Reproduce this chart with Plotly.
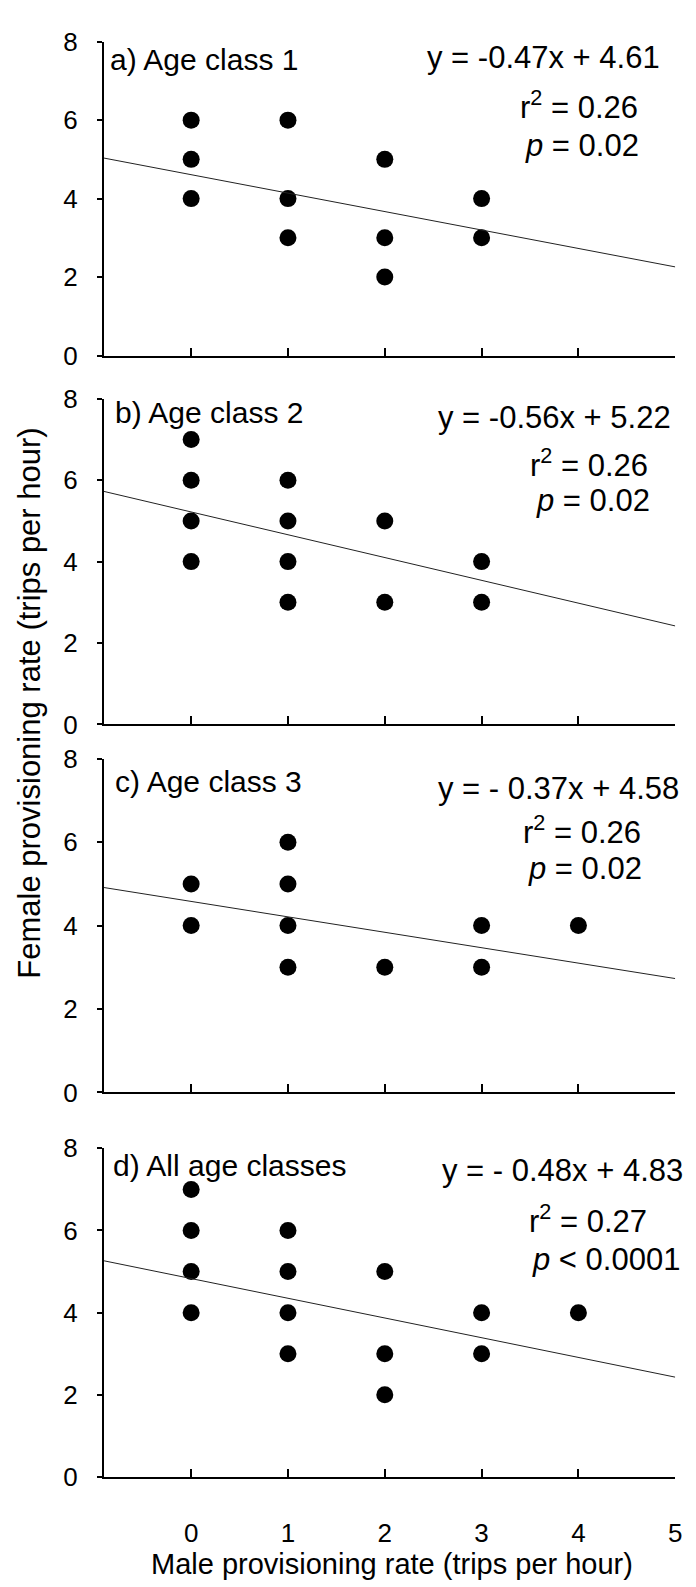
import plotly.graph_objects as go

W, H = 696, 1587
FONT = "Arial, Liberation Sans, sans-serif"

# ---- data ----
panel_labels = ["a) Age class 1", "b) Age class 2", "c) Age class 3", "d) All age classes"]
x_a = [0, 0, 0, 1, 1, 1, 2, 2, 2, 3, 3]
y_a = [6, 5, 4, 6, 4, 3, 5, 3, 2, 4, 3]
x_b = [0, 0, 0, 0, 1, 1, 1, 1, 2, 2, 3, 3]
y_b = [7, 6, 5, 4, 6, 5, 4, 3, 5, 3, 4, 3]
x_c = [0, 0, 1, 1, 1, 1, 2, 3, 3, 4]
y_c = [5, 4, 6, 5, 4, 3, 3, 4, 3, 4]
x_d = [0, 0, 0, 0, 1, 1, 1, 1, 2, 2, 2, 3, 3, 4]
y_d = [7, 6, 5, 4, 6, 5, 4, 3, 5, 3, 2, 4, 3, 4]
slopes = [-0.47, -0.56, -0.37, -0.48]
intercepts = [4.61, 5.22, 4.58, 4.83]
eq_texts = ["y = -0.47x + 4.61", "y = -0.56x + 5.22", "y = - 0.37x + 4.58", "y = - 0.48x + 4.83"]
r2_texts = ["0.26", "0.26", "0.26", "0.27"]
p_texts = ["= 0.02", "= 0.02", "= 0.02", "< 0.0001"]
x_ticks = [0, 1, 2, 3, 4, 5]
y_ticks = [0, 2, 4, 6, 8]
x_title = "Male provisioning rate (trips per hour)"
y_title = "Female provisioning rate (trips per hour)"

XS = [x_a, x_b, x_c, x_d]
YS = [y_a, y_b, y_c, y_d]

# ---- layout geometry (pixels) ----
XMIN, XMAX = -0.9, 5
x_px = (97, 674)
panels_px = [(19, 339), (383, 715), (750, 1090), (1147, 1482)]  # (top, bottom)
label_px = [(101, 47), (106, 407), (106, 783), (104, 1175)]     # (left, baseline)
eq_px = [(541, 45), (552, 412), (556, 790), (560, 1180)]        # (center, baseline)
r2_px = [(577, 98), (587, 462), (580, 837), (586, 1233)]
p_px = [(580, 135), (591, 497), (583, 872), (604, 1270)]


def px(x):
    return x / W


def py(y):
    return 1 - y / H


fig = go.Figure()
layout = dict(
    width=W, height=H, margin=dict(l=0, r=0, t=0, b=0),
    paper_bgcolor="white", plot_bgcolor="white", showlegend=False,
    font=dict(family=FONT, color="black"),
)
annotations = []

for i in range(4):
    n = "" if i == 0 else str(i + 1)
    xa, ya = "x" + n, "y" + n
    top, bot = panels_px[i]
    fig.add_trace(go.Scatter(
        x=XS[i], y=YS[i], mode="markers", xaxis=xa, yaxis=ya,
        marker=dict(size=17, color="black"), cliponaxis=False,
    ))
    lx = [XMIN, XMAX]
    ly = [slopes[i] * v + intercepts[i] for v in lx]
    fig.add_trace(go.Scatter(
        x=lx, y=ly, mode="lines", xaxis=xa, yaxis=ya,
        line=dict(color="#222222", width=1),
    ))
    layout["xaxis" + n] = dict(
        domain=[px(x_px[0]), px(x_px[1])], anchor=ya, range=[XMIN, XMAX],
        tickvals=x_ticks, ticks="inside", ticklen=8, tickwidth=1.5, tickcolor="black",
        showline=True, linecolor="black", linewidth=2, showgrid=False, zeroline=False,
        showticklabels=(i == 3), tickfont=dict(size=26, family=FONT),
        ticklabelstandoff=32,
    )
    layout["yaxis" + n] = dict(
        domain=[py(bot), py(top)], anchor=xa, range=[0, 8],
        tickvals=y_ticks, ticks="outside", ticklen=5, tickwidth=1.5, tickcolor="black",
        showline=True, linecolor="black", linewidth=2, showgrid=False, zeroline=False,
        tickfont=dict(size=26, family=FONT), ticklabelstandoff=14,
    )
    lxp, lyp = label_px[i]
    annotations.append(dict(
        text=panel_labels[i], xref="paper", yref="paper", x=px(lxp), y=py(lyp - 10),
        xanchor="left", yanchor="middle", showarrow=False, font=dict(size=30, family=FONT),
    ))
    ex, ey = eq_px[i]
    annotations.append(dict(
        text=eq_texts[i], xref="paper", yref="paper", x=px(ex), y=py(ey - 10),
        xanchor="center", yanchor="middle", showarrow=False, font=dict(size=31, family=FONT),
    ))
    rx, ry = r2_px[i]
    annotations.append(dict(
        text="r<sup>2</sup> = " + r2_texts[i], xref="paper", yref="paper", x=px(rx), y=py(ry - 14),
        xanchor="center", yanchor="middle", showarrow=False, font=dict(size=31, family=FONT),
    ))
    ppx, ppy = p_px[i]
    annotations.append(dict(
        text="<i>p</i> " + p_texts[i], xref="paper", yref="paper", x=px(ppx), y=py(ppy - 10),
        xanchor="center", yanchor="middle", showarrow=False, font=dict(size=31, family=FONT),
    ))

annotations.append(dict(
    text=x_title, xref="paper", yref="paper", x=px(388), y=py(1571),
    xanchor="center", yanchor="middle", showarrow=False, font=dict(size=29, family=FONT),
))
annotations.append(dict(
    text=y_title, xref="paper", yref="paper", x=px(22), y=py(693), textangle=-90,
    xanchor="center", yanchor="middle", showarrow=False, font=dict(size=31, family=FONT),
))
layout["annotations"] = annotations
fig.update_layout(**layout)
fig.write_html("out.html")
